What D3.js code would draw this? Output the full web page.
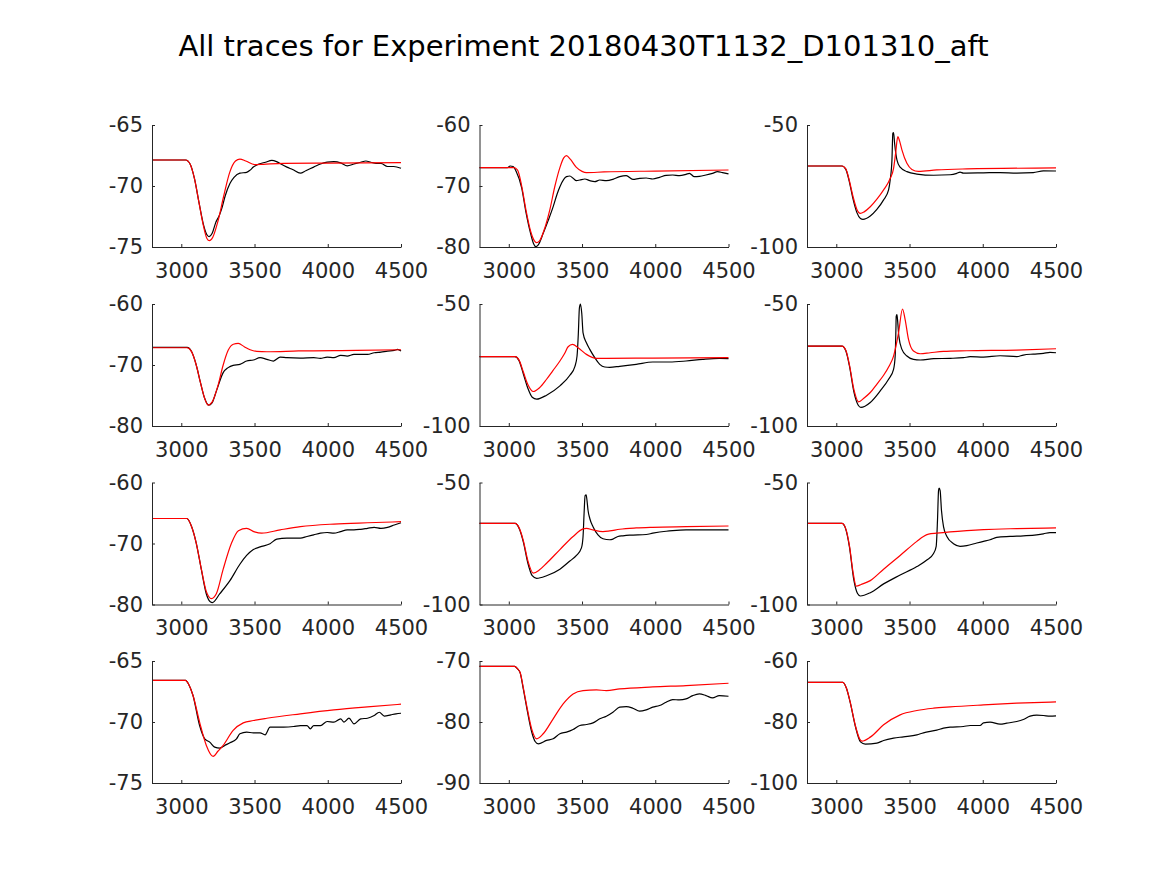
<!DOCTYPE html>
<html><head><meta charset="utf-8">
<script src="https://cdn.jsdelivr.net/npm/d3@7"></script>
<style>body{margin:0;background:#fff;} text{font-family:"DejaVu Sans",sans-serif;}</style>
</head><body><svg id="c" width="1167" height="875"></svg>
<script>
const titleText = "All traces for Experiment 20180430T1132_D101310_aft";
const xDomain = [2800, 4500];
const xTicks = [3000, 3500, 4000, 4500];
const yDomains = [[-75,-65],[-80,-60],[-100,-50],[-80,-60],[-100,-50],[-100,-50],[-80,-60],[-100,-50],[-100,-50],[-75,-65],[-90,-70],[-100,-60]];
const yTicks = [[-75,-70,-65],[-80,-70,-60],[-100,-50],[-80,-70,-60],[-100,-50],[-100,-50],[-80,-70,-60],[-100,-50],[-100,-50],[-75,-70,-65],[-90,-80,-70],[-100,-80,-60]];

const exp1 = [[2800,-67.87],[3030,-67.87],[3060,-68.2],[3090,-69.4],[3120,-71.3],[3150,-73.1],[3175,-74.0],[3190,-74.15],[3210,-73.9],[3235,-73.0],[3260,-72.4],[3275,-71.9],[3300,-70.8],[3332,-69.8],[3360,-69.3],[3400,-68.95],[3446,-68.88],[3470,-68.7],[3492,-68.45],[3530,-68.2],[3575,-68.05],[3618,-67.9],[3650,-68.0],[3680,-68.2],[3721,-68.45],[3760,-68.65],[3813,-68.95],[3850,-68.75],[3904,-68.45],[3950,-68.2],[3996,-68.05],[4042,-68.0],[4088,-68.1],[4133,-68.35],[4179,-68.2],[4225,-68.05],[4260,-67.95],[4294,-68.05],[4330,-68.15],[4363,-68.15],[4408,-68.4],[4450,-68.4],[4500,-68.55]];
const sim1 = [[2800,-67.87],[3030,-67.87],[3060,-68.2],[3090,-69.4],[3120,-71.3],[3150,-73.2],[3175,-74.3],[3192,-74.48],[3215,-74.2],[3250,-72.9],[3290,-70.8],[3330,-68.9],[3370,-67.95],[3400,-67.79],[3440,-67.95],[3500,-68.25],[3560,-68.22],[3700,-68.15],[4000,-68.12],[4500,-68.09]];

const exp2 = [[2800,-67],[2990,-67],[3009,-66.72],[3030,-66.8],[3050,-67.6],[3088,-70.3],[3117,-74.3],[3150,-77.9],[3170,-79.5],[3185,-79.95],[3200,-79.7],[3235,-77.76],[3270,-75.6],[3303,-73.39],[3330,-71.3],[3349,-70.11],[3375,-68.9],[3394,-68.47],[3417,-68.36],[3439,-68.74],[3462,-69.13],[3485,-69.02],[3519,-68.85],[3553,-69.13],[3587,-69.29],[3621,-69.02],[3666,-69.13],[3711,-68.91],[3757,-68.47],[3802,-68.31],[3847,-68.91],[3893,-68.74],[3938,-68.69],[3983,-68.85],[4029,-68.58],[4074,-68.25],[4119,-68.2],[4165,-68.31],[4210,-68.09],[4233,-67.92],[4267,-68.47],[4301,-68.42],[4346,-68.2],[4391,-67.92],[4425,-67.65],[4459,-67.81],[4500,-68.03]];
const sim2 = [[2800,-67],[3035,-67],[3060,-67.4],[3088,-70],[3117,-73.9],[3150,-77.5],[3175,-79.0],[3190,-79.29],[3210,-79.0],[3240,-77.3],[3280,-73.9],[3315,-70.0],[3350,-66.9],[3375,-65.4],[3394,-65.03],[3420,-65.6],[3460,-66.9],[3500,-67.6],[3530,-67.81],[3650,-67.7],[4000,-67.55],[4500,-67.38]];

const exp3 = [[2800,-66.8],[3039,-66.8],[3065,-68.2],[3090,-73.5],[3115,-80.5],[3140,-85.8],[3165,-88.3],[3182,-88.66],[3232,-87.3],[3277,-84.6],[3323,-80.7],[3357,-76.6],[3368,-72.5],[3380,-64.3],[3386,-53.4],[3391,-53.1],[3398,-57.5],[3414,-64.3],[3436,-67.3],[3482,-69.1],[3550,-70.1],[3664,-70.6],[3777,-70.4],[3823,-69.8],[3845,-69.3],[3868,-69.7],[4005,-69.6],[4118,-69.5],[4232,-69.7],[4345,-69.5],[4414,-68.8],[4500,-68.85]];
const sim3 = [[2800,-66.8],[3039,-66.8],[3065,-68],[3090,-73],[3115,-79.5],[3140,-84.5],[3164,-86.2],[3190,-85.6],[3232,-83.5],[3280,-80.2],[3323,-76.6],[3368,-71.9],[3391,-67.8],[3405,-61.6],[3420,-54.8],[3432,-56.5],[3448,-60.2],[3482,-65.7],[3516,-68.2],[3561,-69.0],[3686,-68.4],[3891,-68.0],[4500,-67.6]];

const exp4 = [[2800,-67.12],[3040,-67.12],[3070,-67.8],[3102,-70.0],[3130,-72.8],[3160,-75.5],[3187,-76.58],[3210,-76.2],[3240,-74.24],[3286,-71.25],[3320,-70.43],[3354,-70.05],[3400,-69.89],[3446,-69.35],[3492,-69.18],[3538,-68.8],[3584,-69.08],[3629,-69.35],[3675,-68.7],[3721,-68.8],[3813,-68.86],[3904,-68.8],[3950,-68.91],[3996,-68.7],[4042,-68.8],[4088,-68.42],[4133,-68.53],[4179,-68.26],[4271,-68.26],[4317,-67.99],[4363,-67.88],[4408,-67.72],[4454,-67.61],[4477,-67.45],[4500,-67.72]];
const sim4 = [[2800,-67.17],[3040,-67.17],[3070,-67.8],[3102,-70.0],[3130,-72.8],[3160,-75.5],[3183,-76.58],[3210,-76.1],[3250,-73.4],[3286,-70.0],[3320,-67.6],[3355,-66.6],[3389,-66.47],[3430,-67.0],[3470,-67.5],[3515,-67.77],[3584,-67.83],[3800,-67.7],[4200,-67.6],[4500,-67.5]];

const exp5 = [[2800,-71.6],[3043,-71.6],[3070,-73.2],[3100,-78.8],[3130,-84.5],[3160,-88.2],[3190,-89.0],[3258,-87.36],[3349,-83.56],[3417,-79.21],[3451,-75.68],[3466,-71.33],[3475,-61.82],[3482,-51.63],[3489,-50],[3498,-53.67],[3507,-61.8],[3530,-65.9],[3553,-68.61],[3587,-72.01],[3621,-74.73],[3655,-75.82],[3689,-75.95],[3757,-75.54],[3870,-74.73],[3983,-73.78],[4097,-73.78],[4210,-73.37],[4323,-72.69],[4437,-72.28],[4500,-72.42]];
const sim5 = [[2800,-71.6],[3043,-71.6],[3070,-73],[3100,-78],[3130,-83],[3167,-85.87],[3210,-84.3],[3258,-80.84],[3300,-77.4],[3349,-73.37],[3380,-70.4],[3405,-67.53],[3435,-66.58],[3473,-67.93],[3530,-70.65],[3598,-72.28],[3666,-72.28],[3983,-72.15],[4500,-72.0]];

const exp6 = [[2800,-67.26],[3039,-67.26],[3065,-69.2],[3090,-75.5],[3120,-86],[3150,-91.5],[3168,-92.39],[3232,-90.35],[3300,-85.6],[3357,-80.84],[3391,-76.77],[3402,-71.33],[3407,-60.46],[3409,-55.03],[3414,-54.35],[3418,-56.39],[3427,-63.18],[3448,-68.61],[3482,-71.33],[3527,-72.69],[3573,-72.96],[3664,-72.42],[3777,-72.28],[3868,-72.01],[3914,-71.6],[4005,-71.74],[4118,-71.2],[4232,-71.6],[4277,-70.92],[4345,-70.52],[4414,-70.24],[4459,-69.84],[4500,-69.97]];
const sim6 = [[2800,-67.26],[3039,-67.26],[3065,-69],[3090,-75],[3120,-85],[3152,-90.08],[3190,-88.5],[3232,-86.28],[3280,-82.6],[3323,-79.21],[3360,-75.5],[3391,-71.33],[3425,-61.82],[3452,-52.04],[3470,-56.39],[3493,-64.54],[3527,-69.29],[3573,-70.38],[3641,-69.97],[3732,-69.43],[3891,-69.16],[4232,-68.89],[4500,-68.34]];

const exp7 = [[2800,-65.9],[3038,-65.9],[3070,-67.2],[3102,-69.92],[3137,-74.3],[3170,-78.2],[3200,-79.6],[3212,-79.68],[3263,-78.23],[3332,-76.09],[3400,-73.4],[3446,-71.96],[3492,-70.99],[3538,-70.56],[3606,-70.03],[3652,-69.28],[3721,-69.12],[3813,-69.12],[3858,-68.85],[3904,-68.58],[3950,-68.31],[3996,-68.2],[4042,-68.31],[4088,-68.04],[4133,-67.77],[4179,-67.77],[4225,-67.67],[4271,-67.51],[4317,-67.35],[4363,-67.51],[4408,-67.35],[4454,-66.97],[4500,-66.6]];
const sim7 = [[2800,-65.9],[3038,-65.9],[3070,-67.2],[3102,-69.92],[3137,-74.21],[3170,-77.8],[3206,-79.03],[3240,-78.2],[3286,-74.21],[3343,-69.92],[3390,-67.9],[3446,-67.51],[3500,-68.1],[3549,-68.31],[3675,-67.77],[3813,-67.24],[4042,-66.81],[4271,-66.6],[4500,-66.43]];

const exp8 = [[2800,-66.76],[3043,-66.76],[3070,-68.7],[3100,-74.5],[3130,-83],[3160,-88.2],[3190,-89.28],[3258,-88.2],[3349,-85.52],[3417,-82.17],[3462,-79.89],[3496,-76.81],[3507,-72.12],[3514,-62.73],[3521,-55.36],[3528,-55.09],[3534,-57.37],[3541,-61.39],[3553,-64.75],[3575,-68.1],[3609,-71.45],[3643,-73.06],[3689,-73.46],[3711,-73.19],[3745,-72.12],[3779,-71.85],[3825,-71.58],[3938,-71.31],[3983,-70.78],[4074,-69.97],[4119,-69.71],[4210,-69.44],[4323,-69.44],[4500,-69.44]];
const sim8 = [[2800,-66.76],[3043,-66.76],[3070,-68.5],[3100,-74],[3130,-82],[3167,-87.13],[3210,-85.8],[3258,-83.11],[3349,-77.48],[3439,-72.12],[3507,-69.03],[3530,-68.77],[3575,-69.44],[3643,-70.11],[3689,-69.84],[3757,-69.17],[3870,-68.63],[3983,-68.36],[4210,-68.1],[4500,-67.83]];

const exp9 = [[2800,-66.76],[3039,-66.76],[3065,-69.2],[3090,-76.5],[3120,-90],[3145,-95.5],[3164,-96.51],[3232,-95.17],[3323,-91.55],[3436,-87.94],[3550,-84.45],[3618,-81.77],[3664,-79.09],[3682,-76.14],[3691,-65.42],[3698,-53.35],[3702,-52.28],[3709,-53.35],[3718,-61.39],[3732,-68.1],[3755,-72.12],[3800,-75.07],[3845,-76.14],[3891,-75.87],[3959,-74.8],[4005,-74.13],[4050,-73.46],[4095,-72.52],[4186,-72.12],[4277,-71.85],[4368,-71.45],[4414,-71.05],[4459,-70.51],[4500,-70.51]];
const sim9 = [[2800,-66.76],[3039,-66.76],[3065,-69],[3090,-76],[3115,-87],[3136,-92.49],[3170,-91.8],[3232,-90.21],[3323,-85.52],[3436,-79.89],[3550,-74.13],[3595,-72.12],[3630,-71.18],[3686,-70.78],[3777,-70.24],[3891,-69.71],[4005,-69.3],[4232,-68.9],[4500,-68.63]];

const exp10 = [[2800,-66.58],[3029,-66.58],[3050,-66.9],[3080,-67.83],[3125,-70.29],[3160,-71.38],[3194,-71.65],[3228,-72.06],[3263,-72.14],[3297,-71.92],[3332,-71.7],[3377,-71.38],[3400,-70.97],[3446,-70.83],[3492,-70.89],[3538,-70.89],[3572,-71.05],[3606,-70.42],[3652,-70.42],[3698,-70.42],[3767,-70.37],[3813,-70.29],[3858,-70.29],[3881,-70.56],[3904,-70.29],[3950,-70.29],[3996,-69.96],[4042,-70.01],[4088,-69.74],[4111,-70.01],[4145,-69.69],[4179,-70.15],[4225,-69.74],[4271,-69.69],[4317,-69.47],[4352,-69.2],[4386,-69.52],[4431,-69.41],[4466,-69.33],[4500,-69.28]];
const sim10 = [[2800,-66.58],[3029,-66.58],[3050,-66.9],[3080,-67.83],[3125,-70.01],[3171,-71.92],[3217,-72.82],[3250,-72.4],[3286,-71.92],[3354,-70.69],[3423,-70.07],[3492,-69.88],[3584,-69.69],[3813,-69.33],[4042,-69.01],[4271,-68.76],[4500,-68.54]];

const exp11 = [[2800,-70.87],[3040,-70.87],[3060,-71.3],[3077,-71.9],[3100,-74.7],[3122,-77.6],[3156,-81.6],[3180,-83.2],[3201,-83.57],[3258,-83.02],[3303,-82.75],[3349,-81.93],[3394,-81.66],[3439,-81.23],[3485,-80.57],[3530,-80.41],[3575,-80.14],[3621,-79.48],[3666,-79.05],[3711,-78.39],[3757,-77.57],[3802,-77.47],[3847,-77.74],[3893,-78.23],[3938,-78.01],[3983,-77.57],[4029,-77.3],[4074,-76.76],[4119,-76.32],[4165,-76.38],[4210,-76.21],[4256,-75.67],[4301,-75.4],[4346,-75.67],[4391,-76.05],[4437,-75.67],[4500,-75.78]];
const sim11 = [[2800,-70.87],[3040,-70.87],[3060,-71.3],[3077,-71.85],[3100,-74.5],[3122,-77.3],[3156,-81.12],[3190,-82.75],[3235,-81.93],[3303,-79.48],[3371,-77.03],[3439,-75.4],[3507,-74.85],[3598,-74.74],[3666,-74.85],[3757,-74.58],[3983,-74.25],[4210,-74.03],[4500,-73.65]];

const exp12 = [[2800,-66.98],[3045,-66.98],[3070,-69],[3095,-73.6],[3130,-81.4],[3165,-86.5],[3198,-87.25],[3277,-86.92],[3323,-86.05],[3391,-85.29],[3459,-84.85],[3550,-84.2],[3595,-83.54],[3686,-82.67],[3732,-82.02],[3777,-81.69],[3868,-81.47],[3914,-81.14],[3982,-81.14],[4005,-80.27],[4050,-80.05],[4118,-80.71],[4164,-80.38],[4232,-79.84],[4277,-79.18],[4323,-78.09],[4368,-77.77],[4414,-77.87],[4459,-78.09],[4500,-77.98]];
const sim12 = [[2800,-66.98],[3045,-66.98],[3070,-69],[3095,-73.51],[3130,-81.14],[3160,-85.6],[3175,-86.27],[3232,-84.96],[3323,-80.93],[3436,-77.66],[3550,-76.24],[3664,-75.48],[3777,-75.04],[4005,-74.39],[4232,-73.84],[4500,-73.41]];

const expTraces = [exp1,exp2,exp3,exp4,exp5,exp6,exp7,exp8,exp9,exp10,exp11,exp12];
const simTraces = [sim1,sim2,sim3,sim4,sim5,sim6,sim7,sim8,sim9,sim10,sim11,sim12];

const svg = d3.select("#c");
svg.append("rect").attr("width",1167).attr("height",875).attr("fill","#fff");
svg.append("text").attr("x",583.5).attr("y",56).attr("text-anchor","middle")
  .attr("font-size",29).attr("fill","#000").text(titleText);

const colLeft = [152, 479.5, 807];
const rowTop = [125, 304, 482.5, 661];
const W = 249, H = 122;
const axisColor = "#262626";
const fmt = d => String(d);

for (let i = 0; i < 12; i++) {
  const r = Math.floor(i/3), c = i%3;
  const g = svg.append("g").attr("transform",`translate(${colLeft[c]},${rowTop[r]})`);
  const x = d3.scaleLinear().domain(xDomain).range([0,W]);
  const y = d3.scaleLinear().domain(yDomains[i]).range([H,0]);
  const line = d3.line().x(d=>x(d[0])).y(d=>y(d[1])).curve(d3.curveMonotoneX);
  g.append("path").datum(expTraces[i]).attr("d",line).attr("fill","none").attr("stroke","#000").attr("stroke-width",1.2);
  g.append("path").datum(simTraces[i]).attr("d",line).attr("fill","none").attr("stroke","#ff0000").attr("stroke-width",1.2);
  const xa = g.append("g").attr("transform",`translate(0,${H})`)
    .call(d3.axisBottom(x).tickValues(xTicks).tickFormat(fmt).tickSizeInner(-3).tickSizeOuter(0).tickPadding(16));
  const ya = g.append("g")
    .call(d3.axisLeft(y).tickValues(yTicks[i]).tickFormat(fmt).tickSizeInner(-3).tickSizeOuter(0).tickPadding(9));
  [xa,ya].forEach(a=>{
    a.selectAll("path").attr("stroke",axisColor).attr("stroke-width",1);
    a.selectAll("line").attr("stroke",axisColor).attr("stroke-width",1);
    a.selectAll("text").attr("fill",axisColor).attr("font-size",21).attr("font-family","DejaVu Sans");
  });
  xa.selectAll("text").attr("dy","0.71em");
}
</script></body></html>
